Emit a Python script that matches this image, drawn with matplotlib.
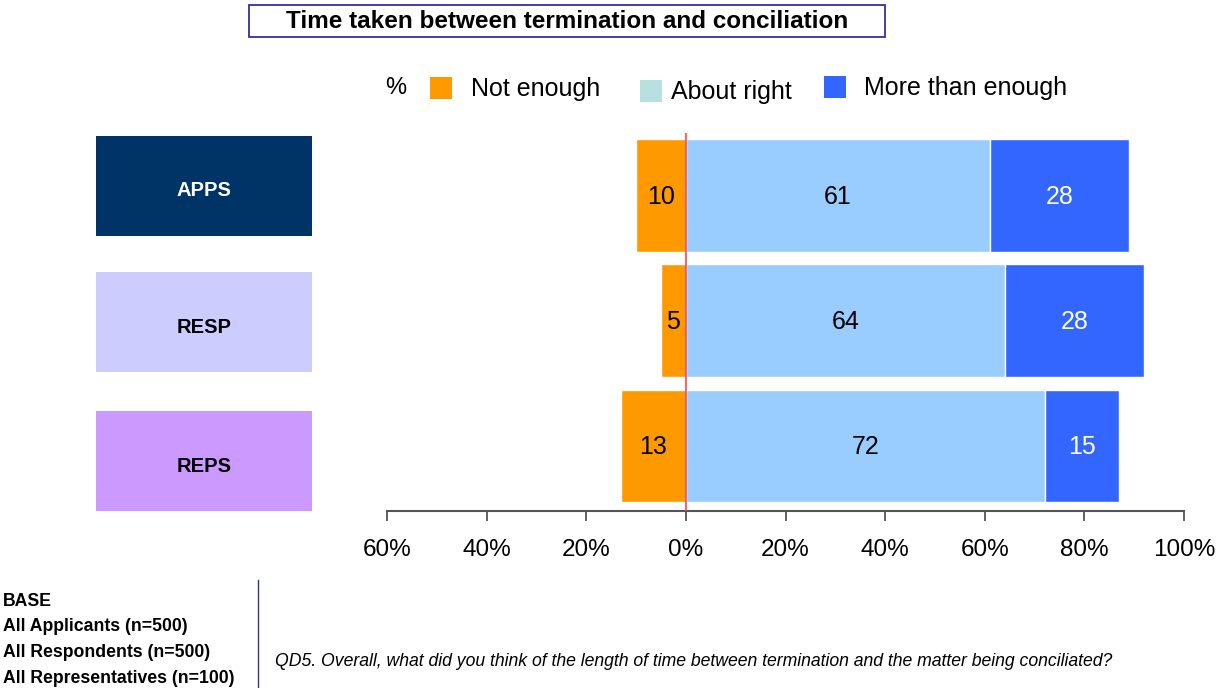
import matplotlib
matplotlib.use('Agg')
import matplotlib.pyplot as plt
from matplotlib.patches import Rectangle

plt.rcParams['font.family'] = ['Liberation Sans', 'DejaVu Sans']

# data
groups = ['APPS', 'RESP', 'REPS']
group_colors = ['#003366', '#CCCCFF', '#CC99FF']
group_text = ['white', 'black', 'black']
not_enough = [10, 5, 13]
about_right = [61, 64, 72]
more_than = [28, 28, 15]
legend_labels = ['Not enough', 'About right', 'More than enough']
ticks = [-60, -40, -20, 0, 20, 40, 60, 80, 100]
tick_labels = ['60%', '40%', '20%', '0%', '20%', '40%', '60%', '80%', '100%']
base_lines = ['BASE', 'All Applicants (n=500)', 'All Respondents (n=500)',
              'All Representatives (n=100)']
question = ('QD5. Overall, what did you think of the length of time between '
            'termination and the matter being conciliated?')

c_not = '#FF9900'
c_about = '#99CCFF'
c_more = '#3366FF'

W, H = 1218, 688
fig = plt.figure(figsize=(W / 100, H / 100), dpi=100)

def fx(px):
    return px / W

def fy(py):
    return 1 - py / H

# main axes
ax = fig.add_axes([fx(387), fy(511), fx(1184) - fx(387), fy(133) - fy(511)])
y = list(range(len(groups)))
neg = [-v for v in not_enough]
ax.barh(y, neg, height=0.9, color=c_not, edgecolor='white', linewidth=1)
ax.barh(y, about_right, height=0.9, color=c_about, edgecolor='white', linewidth=1)
ax.barh(y, more_than, left=about_right, height=0.9, color=c_more,
        edgecolor='white', linewidth=1)

for i in y:
    ax.text(-not_enough[i] / 2, i + 0.01, str(not_enough[i]), ha='center',
            va='center', fontsize=18, color='black')
    ax.text(about_right[i] / 2, i + 0.01, str(about_right[i]), ha='center',
            va='center', fontsize=18, color='black')
    ax.text(about_right[i] + more_than[i] / 2, i + 0.01, str(more_than[i]),
            ha='center', va='center', fontsize=18, color='white')

ax.axvline(0, color='#FF4444', lw=1.2, zorder=5)
ax.set_xlim(-60, 100)
ax.set_ylim(2.52, -0.5)
ax.set_xticks(ticks)
ax.set_xticklabels(tick_labels, fontsize=17.5)
ax.set_yticks([])
for s in ['top', 'left', 'right']:
    ax.spines[s].set_visible(False)
ax.spines['bottom'].set_color('#555555')
ax.spines['bottom'].set_linewidth(1.5)
ax.tick_params(axis='x', colors='#555555', length=7, width=1.3, pad=13,
               labelcolor='black')

# group boxes on the left
box_tops = [136, 272, 411]
for g, col, tc, top in zip(groups, group_colors, group_text, box_tops):
    fig.patches.append(Rectangle((fx(96), fy(top + 100)), fx(216), 100 / H,
                                 transform=fig.transFigure, facecolor=col,
                                 edgecolor='none'))
    fig.text(fx(204), fy(top + 55), g, ha='center', va='center', fontsize=14.5,
             fontweight='bold', color=tc)

# title box
fig.patches.append(Rectangle((fx(249), fy(37)), fx(636), 32 / H,
                             transform=fig.transFigure, facecolor='white',
                             edgecolor='#333399', linewidth=1.3))
fig.text(fx(567), fy(22), 'Time taken between termination and conciliation',
         ha='center', va='center', fontsize=17.5, fontweight='bold')

# legend
fig.text(fx(385), fy(88), '%', ha='left', va='center', fontsize=17)
sw_x = [430, 640, 824]
sw_y = [77, 80, 76]
txt_x = [471, 671, 864]
sw_cols = [c_not, '#B8E0E0', c_more]
for lab, sx, sy, tx, col in zip(legend_labels, sw_x, sw_y, txt_x, sw_cols):
    fig.patches.append(Rectangle((fx(sx), fy(sy + 22)), fx(22), 22 / H,
                                 transform=fig.transFigure, facecolor=col,
                                 edgecolor='none'))
    fig.text(fx(tx), fy(sy + 12), lab, ha='left', va='center', fontsize=18)

# base block
for k, line in enumerate(base_lines):
    fig.text(fx(3), fy(601 + k * 25.7), line, ha='left', va='center',
             fontsize=12.7, fontweight='bold')
fig.add_artist(plt.Line2D([fx(258), fx(258)], [fy(580), fy(688)],
                          transform=fig.transFigure, color='#333399', lw=1))
fig.text(fx(275), fy(662), question, ha='left', va='center', fontsize=12.7,
         style='italic')

fig.savefig('out.png', dpi=100)
